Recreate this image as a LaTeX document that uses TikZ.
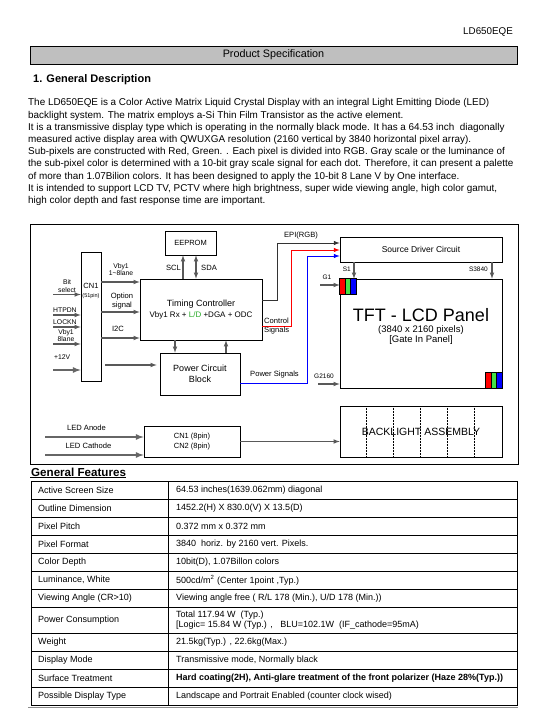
\documentclass[tikz,border=0pt]{standalone}
\usepackage{fontspec}
\setmainfont{Liberation Sans}
\usepackage{tikz}
\usetikzlibrary{positioning,calc}
\definecolor{pixred}{RGB}{255,0,0}
\definecolor{pixgreen}{RGB}{70,225,70}
\definecolor{pixblue}{RGB}{0,0,255}
\definecolor{ldgreen}{RGB}{40,170,40}

\begin{document}
\begin{tikzpicture}[x=1pt, y=-1pt,
    box/.style={draw, line width=0.7pt, inner sep=0pt, align=center},
    lab/.style={inner sep=0pt, font=\fontsize{7.6}{8.5}\selectfont},
    leftlab/.style={inner sep=0pt, font=\fontsize{6.8}{7.4}\selectfont},
    smalllab/.style={inner sep=0pt, font=\fontsize{6.5}{7.5}\selectfont},
    sig/.style={draw=black!65, line width=1.1pt, -latex},
    fatsig/.style={draw=black!60, line width=1.7pt, -latex},
    bus/.style={line width=1pt, -latex},
    cell/.style={anchor=west, inner sep=0pt, font=\fontsize{9}{10.5}\selectfont}]

    \useasboundingbox (0,0) rectangle (540,720);

    \node[anchor=east, inner sep=0pt, font=\fontsize{9.8}{11}\selectfont] (docid) at (513,32) {LD650EQE};
    \node[draw, fill=black!25, line width=0.6pt, minimum width=487pt, minimum height=18pt, inner sep=0pt, font=\fontsize{10.8}{12}\selectfont] (prodspec) at (273.5,55) {Product Specification};
    \node[anchor=west, inner sep=0pt, font=\bfseries\fontsize{11}{13}\selectfont] (sechead) at (33,80) {1. General Description};
    \node[anchor=north west, inner sep=0pt, align=left, font=\fontsize{9.9}{12.2}\selectfont] (desc) at (28,98.5) {%
        The LD650EQE is a Color Active Matrix Liquid Crystal Display with an integral Light Emitting Diode (LED)\\
        backlight system. The matrix employs a-Si Thin Film Transistor as the active element.\\
        It is a transmissive display type which is operating in the normally black mode. It has a 64.53 inch~ diagonally\\
        measured active display area with QWUXGA resolution (2160 vertical by 3840 horizontal pixel array).\\
        Sub-pixels are constructed with Red, Green. . Each pixel is divided into RGB. Gray scale or the luminance of\\
        the sub-pixel color is determined with a 10-bit gray scale signal for each dot. Therefore, it can present a palette\\
        of more than 1.07Bilion colors. It has been designed to apply the 10-bit 8 Lane V by One interface.\\
        It is intended to support LCD TV, PCTV where high brightness, super wide viewing angle, high color gamut,\\
        high color depth and fast response time are important.};

    \draw[line width=0.7pt] (30,224) rectangle (518,464);

    \node[box, minimum width=51pt, minimum height=24pt, font=\fontsize{7.5}{9}\selectfont] (eeprom) at (190.5,243) {EEPROM};
    \node[box, minimum width=122pt, minimum height=61pt, font=\fontsize{9}{11}\selectfont] (tcon) at (201,309.5) {Timing Controller\\[0pt]{\fontsize{8}{9}\selectfont Vby1 Rx + \textcolor{ldgreen}{L/D} +DGA + ODC}};
    \node[box, minimum width=20pt, minimum height=129pt] (cnone) at (91,316.5) {};
    \node[inner sep=0pt, font=\fontsize{7.5}{9}\selectfont] (cnonename) at (91,286) {CN1};
    \node[inner sep=0pt, font=\fontsize{5.5}{6.5}\selectfont] (cnonepins) at (91,296) {(51pin)};
    \node[box, minimum width=80pt, minimum height=42pt, font=\fontsize{9}{10.5}\selectfont] (pwr) at (200,374) {Power Circuit\\Block};
    \node[box, minimum width=162pt, minimum height=25pt, font=\fontsize{8.5}{10}\selectfont] (sdc) at (421,249.5) {Source Driver Circuit};
    \node[box, minimum width=162pt, minimum height=109pt] (panel) at (421,333.5) {};
    \node[inner sep=0pt, font=\fontsize{18}{20}\selectfont] (paneltitle) at (421,315) {TFT - LCD Panel};
    \node[inner sep=0pt, font=\fontsize{9.5}{11}\selectfont] (panelres) at (421,330) {(3840 x 2160 pixels)};
    \node[inner sep=0pt, font=\fontsize{9.5}{11}\selectfont] (panelgip) at (421,340) {[Gate In Panel]};
    \foreach \c [count=\i] in {pixred,pixgreen,pixblue} {
        \draw[fill=\c, line width=0.6pt] ($(panel.north west)+(5.5*\i-5.5,0)$) rectangle +(5.5,16);
        \draw[fill=\c, line width=0.6pt] ($(panel.south east)+(5.5*\i-22.5,0)$) rectangle +(5.5,-16);
    }
    \foreach \x in {366,393,420,447,474}
        \draw[densely dotted, line width=0.5pt] (\x,406) -- (\x,457);
    \node[box, minimum width=162pt, minimum height=51pt, font=\fontsize{10.5}{12}\selectfont] (blu) at (421,431.5) {BACKLIGHT ASSEMBLY};
    \node[box, minimum width=96pt, minimum height=31pt, font=\fontsize{7.5}{9.5}\selectfont] (cnled) at (192,441.5) {CN1 (8pin)\\CN2 (8pin)};

    \coordinate (sclx) at (183,0);
    \coordinate (sdax) at (196,0);
    \draw[sig] (tcon.north -| sclx) -- (eeprom.south -| sclx);
    \draw[sig, latex-latex] (tcon.north -| sdax) -- (eeprom.south -| sdax);
    \node[lab, anchor=east] (scllab) at (181,268) {SCL};
    \node[lab, anchor=west] (sdalab) at (201,268) {SDA};

    \coordinate (downx) at (175,0);
    \coordinate (upx) at (226,0);
    \draw[sig] (tcon.south -| downx) -- (pwr.north -| downx);
    \draw[sig] (pwr.north -| upx) -- (tcon.south -| upx);

    \coordinate (vbyy) at (0,282);
    \coordinate (opty) at (0,312);
    \coordinate (iicy) at (0,338);
    \draw[sig] (cnone.east |- vbyy) -- (tcon.west |- vbyy);
    \draw[sig] (cnone.east |- opty) -- (tcon.west |- opty);
    \draw[sig] (cnone.east |- iicy) -- (tcon.west |- iicy);
    \node[leftlab, align=center] (vbylab) at (121,269.5) {Vby1\\1\textasciitilde 8lane};
    \node[lab, align=center] (optlab) at (122,301) {Option\\signal};
    \node[lab] (iiclab) at (118,329) {I2C};

    \coordinate (bitin) at (53,294.5);
    \coordinate (hpdin) at (53,315);
    \coordinate (lockin) at (53,327);
    \coordinate (lanein) at (53,344);
    \coordinate (vccin) at (53,370);
    \foreach \p in {bitin,hpdin,lockin,lanein}
        \draw[sig] (\p) -- (\p -| cnone.west);
    \draw[fatsig] (vccin) -- (vccin -| cnone.west);
    \node[leftlab, align=center] (bitlab) at (67,286) {Bit\\select};
    \node[leftlab, anchor=west] (hpdlab) at (53,310.5) {HTPDN};
    \node[leftlab, anchor=west] (locklab) at (53,322.5) {LOCKN};
    \node[leftlab, align=center] (lanelab) at (66,335.5) {Vby1\\8lane};
    \node[leftlab, anchor=west] (vcclab) at (54,357) {+12V};

    \coordinate (pwrin) at (105,365);
    \draw[sig] (pwrin) -- ($(pwrin -| pwr.west)+(-3,0)$);

    \coordinate (epiturn) at (277,243);
    \coordinate (ctlturn) at (291,250);
    \coordinate (psturn) at (307,256);
    \coordinate (epiy) at (0,300);
    \coordinate (ctly) at (0,326);
    \coordinate (psy) at (0,383);
    \draw[bus, black!80] (tcon.east |- epiy) -| (epiturn) -- (epiturn -| sdc.west);
    \draw[bus, red] (tcon.east |- ctly) -| (ctlturn) -- (ctlturn -| sdc.west);
    \draw[bus, blue] (pwr.east |- psy) -| (psturn) -- (psturn -| sdc.west);
    \node[lab] (epilab) at (301,236) {EPI(RGB)};
    \node[lab, anchor=west, align=left] (ctllab) at (264,326) {Control\\Signals};
    \node[lab] (pslab) at (274.5,375) {Power Signals};

    \coordinate (sfirstx) at (354,0);
    \coordinate (slastx) at (492,0);
    \draw[sig] (sdc.south -| sfirstx) -- (panel.north -| sfirstx);
    \draw[sig] (sdc.south -| slastx) -- (panel.north -| slastx);
    \node[smalllab, anchor=east] (sfirstlab) at (351,269) {S1};
    \node[smalllab, anchor=east] (slastlab) at (488,269) {S3840};

    \coordinate (gfirstin) at (320,285);
    \coordinate (glastin) at (318,384);
    \draw[sig] (gfirstin) -- (gfirstin -| panel.west);
    \draw[sig] (glastin) -- (glastin -| panel.west);
    \node[smalllab] (gfirstlab) at (327,277) {G1};
    \node[smalllab] (glastlab) at (324,376) {G2160};

    \coordinate (anodein) at (45,437);
    \coordinate (cathin) at (45,455);
    \draw[fatsig] (anodein) -- (anodein -| cnled.west);
    \draw[fatsig] (cathin) -- (cathin -| cnled.west);
    \node[lab] (anodelab) at (86.5,428) {LED Anode};
    \node[lab] (cathlab) at (88.5,446) {LED Cathode};
    \draw[sig] (cnled.east) -- (cnled.east -| blu.west);

    \node[anchor=west, inner sep=0pt, font=\bfseries\fontsize{11.6}{13}\selectfont] (feathead) at (31,472) {General Features};
    \draw[line width=1pt] ($(feathead.south west)+(-1,1.5)$) -- ($(feathead.south east)+(0,1.5)$);

    \draw[line width=0.7pt] (31,481) rectangle (517,705);
    \draw[line width=0.7pt] (168,481) -- (168,705);
    \foreach \y in {499,517,535,553,571,589,607,633,651,669,687}
        \draw[line width=0.7pt] (31,\y) -- (517,\y);
    \draw[black!45, line width=1.5pt] (28,707.5) -- (518,707.5);

    \node[cell] (k1) at (38,490) {Active Screen Size};
    \node[cell] (v1) at (176,490) {64.53 inches(1639.062mm) diagonal};
    \node[cell] (k2) at (38,508) {Outline Dimension};
    \node[cell] (v2) at (176,508) {1452.2(H) X 830.0(V) X 13.5(D)};
    \node[cell] (k3) at (38,526) {Pixel Pitch};
    \node[cell] (v3) at (176,526) {0.372 mm x 0.372 mm};
    \node[cell] (k4) at (38,544) {Pixel Format};
    \node[cell] (v4) at (176,544) {3840~ horiz. by 2160 vert. Pixels.};
    \node[cell] (k5) at (38,562) {Color Depth};
    \node[cell] (v5) at (176,562) {10bit(D), 1.07Billon colors};
    \node[cell] (k6) at (38,580) {Luminance, White};
    \node[cell] (v6) at (176,580) {500cd/m\textsuperscript{2} (Center 1point ,Typ.)};
    \node[cell] (k7) at (38,598) {Viewing Angle (CR>10)};
    \node[cell] (v7) at (176,598) {Viewing angle free ( R/L 178 (Min.), U/D 178 (Min.))};
    \node[cell] (k8) at (38,620) {Power Consumption};
    \node[cell, align=left] (v8) at (176,620) {Total 117.94 W~ (Typ.)\\{}[Logic= 15.84 W (Typ.) ,~~ BLU=102.1W~ (IF\_cathode=95mA)};
    \node[cell] (k9) at (38,642) {Weight};
    \node[cell] (v9) at (176,642) {21.5kg(Typ.) , 22.6kg(Max.)};
    \node[cell] (k10) at (38,660) {Display Mode};
    \node[cell] (v10) at (176,660) {Transmissive mode, Normally black};
    \node[cell] (k11) at (38,678) {Surface Treatment};
    \node[cell, font=\bfseries\fontsize{9}{10.5}\selectfont] (v11) at (176,678) {Hard coating(2H), Anti-glare treatment of the front polarizer (Haze 28\%(Typ.))};
    \node[cell] (k12) at (38,696) {Possible Display Type};
    \node[cell] (v12) at (176,696) {Landscape and Portrait Enabled (counter clock wised)};
\end{tikzpicture}
\end{document}
